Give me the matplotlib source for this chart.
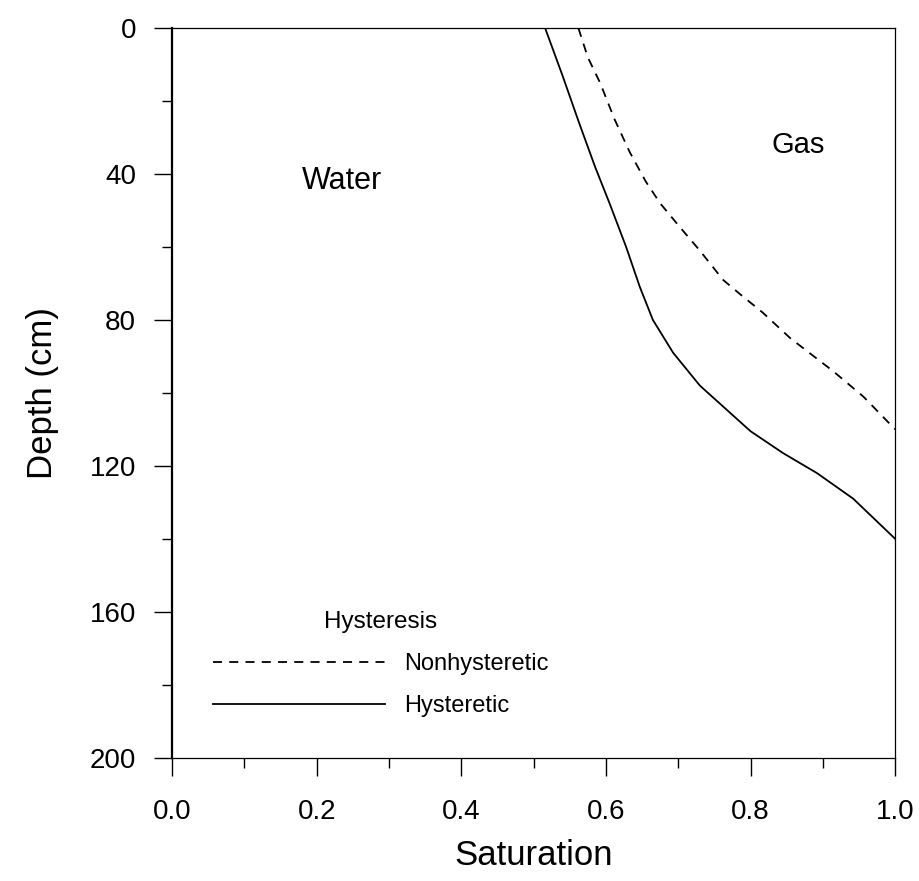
import matplotlib
matplotlib.use("Agg")
import matplotlib.pyplot as plt
from matplotlib.ticker import MultipleLocator

plt.rcParams['font.family'] = ['Liberation Sans', 'DejaVu Sans']

# Saturation vs depth
hyst_sat = [0.516, 0.540, 0.563, 0.585, 0.605, 0.628, 0.647, 0.665, 0.693,
            0.730, 0.772, 0.800, 0.845, 0.892, 0.942, 1.0]
hyst_depth = [0, 13, 26, 38, 48, 60, 71, 80, 89,
              98, 105.5, 110.5, 116.5, 122, 129, 140]

nonhyst_sat = [0.562, 0.575, 0.592, 0.612, 0.633, 0.655, 0.675, 0.700, 0.730,
               0.762, 0.786, 0.817, 0.855, 0.914, 0.956, 1.0]
nonhyst_depth = [0, 8, 15, 25, 34, 42, 48, 54, 61,
                 69, 73, 78, 85, 94, 101, 110]

x_ticks = [0.0, 0.2, 0.4, 0.6, 0.8, 1.0]
y_ticks = [0, 40, 80, 120, 160, 200]

fig = plt.figure(figsize=(9.2, 8.81), dpi=100)
ax = fig.add_axes([0.187, 0.140, 0.786, 0.828])

ax.plot(nonhyst_sat, nonhyst_depth, color='black', lw=1.3,
        linestyle=(0, (5, 4)), label='Nonhysteretic')
ax.plot(hyst_sat, hyst_depth, color='black', lw=1.3, label='Hysteretic')

ax.set_xlim(0, 1)
ax.set_ylim(200, 0)
ax.set_xticks(x_ticks)
ax.set_xticklabels([f'{t:.1f}' for t in x_ticks])
ax.set_yticks(y_ticks)
ax.xaxis.set_minor_locator(MultipleLocator(0.1))
ax.yaxis.set_minor_locator(MultipleLocator(20))
ax.tick_params(which='major', direction='out', length=13, width=1,
               labelsize=20)
ax.tick_params(axis='x', which='major', pad=17)
ax.tick_params(axis='y', which='major', pad=13)
ax.tick_params(which='minor', direction='out', length=7, width=1)

for side in ['top', 'right', 'bottom']:
    ax.spines[side].set_linewidth(0.9)
ax.spines['left'].set_linewidth(1.6)

ax.set_xlabel('Saturation', fontsize=25, labelpad=10)
ax.set_ylabel('Depth (cm)', fontsize=25, labelpad=22)

ax.text(0.235, 42, 'Water', fontsize=22, ha='center', va='center')
ax.text(0.866, 32, 'Gas', fontsize=21, ha='center', va='center')

leg = ax.legend(title='Hysteresis', loc='lower left',
                bbox_to_anchor=(0.027, 0.026), frameon=False,
                fontsize=17, title_fontsize=17.5, handlelength=7.3,
                handletextpad=0.8, labelspacing=0.85)

fig.savefig('out.png', dpi=100)
